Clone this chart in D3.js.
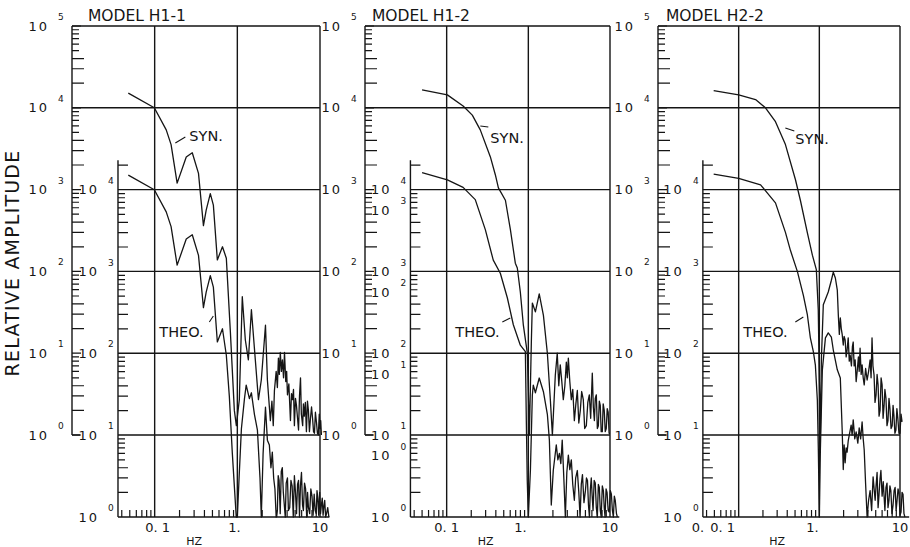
<!DOCTYPE html>
<html>
<head>
<meta charset="utf-8">
<script src="https://cdn.jsdelivr.net/npm/d3@7"></script>
<style>
  body { margin: 0; background: #fff; }
  svg text { font-family: "DejaVu Sans", "Liberation Sans", sans-serif; fill: #151515; }
</style>
</head>
<body>
<svg id="chart" width="910" height="547"></svg>
<script>
// ---- data: spectral amplitude vs frequency [Hz, amplitude] ----
const panelTitles = ["MODEL  H1-1", "MODEL  H1-2", "MODEL  H2-2"];

const synH11 = [[0.048,15100],[0.099,10000],[0.138,5370],[0.158,3550],[0.187,1200],[0.241,2500],[0.285,2820],[0.339,1580],[0.389,363],[0.42,562],[0.471,891],[0.513,646],[0.573,138],[0.661,200],[0.736,145],[0.822,19],[0.92,2.0],[0.973,1.3],[1.057,2.7],[1.148,49],[1.25,14.5],[1.36,8.3],[1.48,34],[1.65,8.3],[1.80,2.7],[1.95,4.7],[2.19,22],[2.31,4.7],[2.51,1.5],[2.62,2.6],[2.72,1.3],[2.81,3.5],[2.95,6],[3.05,3.8],[3.14,8.7],[3.22,5.5],[3.31,10.2],[3.41,6],[3.51,8.3],[3.62,5],[3.72,10.2],[3.85,4.5],[3.95,6],[4.04,3.1],[4.2,4.2],[4.39,1.5],[4.52,3.2],[4.65,2.7],[4.78,3.6],[4.90,1.3],[5.05,2.8],[5.19,2.3],[5.35,1.6],[5.50,1.15],[5.65,3],[5.81,5.0],[5.95,1.8],[6.17,1.3],[6.3,2.4],[6.46,1.7],[6.65,2.5],[6.85,1.1],[7.05,2.6],[7.24,2.0],[7.45,1.1],[7.67,1.6],[7.9,2.2],[8.13,1.6],[8.35,1.1],[8.57,1.05],[8.8,1.9],[9.08,1.4],[9.3,1.05],[9.55,1],[9.8,1.8],[10,1.2],[10.2,1.5],[10.4,1]];
const theoH11 = [[0.048,15100],[0.099,10000],[0.138,5370],[0.158,3550],[0.187,1200],[0.241,2500],[0.285,2820],[0.339,1580],[0.389,363],[0.42,562],[0.471,891],[0.513,646],[0.573,138],[0.661,200],[0.736,95],[0.80,30],[0.87,6],[0.93,2],[0.97,1],[1.0,1],[1.05,3],[1.12,12],[1.22,28],[1.28,41],[1.40,28],[1.48,33],[1.61,18],[1.75,11.5],[1.88,3],[1.95,1],[2.05,6],[2.19,22],[2.31,8.7],[2.44,7.6],[2.55,4],[2.65,6.2],[2.75,3],[2.85,2.2],[2.95,1],[3.05,1.2],[3.12,3.2],[3.2,2.8],[3.3,1.1],[3.4,3.6],[3.5,4],[3.6,2],[3.7,1.4],[3.8,1],[3.9,2.6],[4.04,3],[4.15,1.2],[4.3,1.3],[4.45,2.8],[4.6,2.4],[4.75,1],[4.9,3.2],[5.05,2],[5.2,1.1],[5.35,2.5],[5.5,2.8],[5.65,1],[5.8,2.4],[5.97,3.5],[6.15,1.4],[6.3,1.2],[6.5,2.6],[6.7,2.2],[6.9,1],[7.07,2.0],[7.25,1.3],[7.5,1.1],[7.75,2.2],[8.0,1.8],[8.25,1.05],[8.5,1.9],[8.75,1.2],[9.0,1.1],[9.2,2.1],[9.4,1.7],[9.65,1.05],[9.9,2.0],[10.15,1.1],[10.4,1.4],[10.65,1.7],[10.9,1.05],[11.1,1.3],[11.4,1.6],[11.7,1],[12,1.1],[12.4,1.3],[12.8,1]];

const synH12 = [[0.05,16600],[0.102,14400],[0.159,10500],[0.206,8130],[0.258,5370],[0.343,2510],[0.395,1510],[0.43,1050],[0.524,741],[0.603,324],[0.693,126],[0.733,110],[0.798,56],[0.869,22],[0.972,10],[1.0,3.5],[1.03,1],[1.09,14.5],[1.12,41],[1.22,32],[1.36,53],[1.53,29],[1.71,10],[1.86,2.7],[1.97,1],[2.14,5.4],[2.26,10],[2.36,4],[2.46,7.2],[2.57,4.5],[2.68,2.7],[2.8,4],[2.92,7.8],[3.0,5],[3.09,8.7],[3.22,4.5],[3.36,2.7],[3.5,3.6],[3.66,1.5],[3.82,2.4],[3.98,3.5],[4.15,1.4],[4.33,2.0],[4.5,3.4],[4.71,2.7],[4.9,1.2],[5.13,1.3],[5.35,2.5],[5.58,3.1],[5.8,1.6],[6.07,5.7],[6.25,2.2],[6.44,1.5],[6.6,2.8],[6.8,3.1],[7.0,1.2],[7.2,1.3],[7.4,2.6],[7.6,2.3],[7.8,1.1],[8.05,1.1],[8.25,2.4],[8.5,2.0],[8.75,1.1],[9.0,1.2],[9.25,2.1],[9.5,1.9],[9.75,1.05],[10,1.05]];
const theoH12 = [[0.05,16200],[0.102,13200],[0.159,10700],[0.224,7590],[0.298,3240],[0.372,1380],[0.454,955],[0.553,479],[0.655,224],[0.798,126],[0.92,105],[0.945,15],[0.97,2.8],[1.0,1],[1.06,3.7],[1.12,31],[1.15,41],[1.22,33],[1.36,50],[1.53,34],[1.71,18],[1.81,8.7],[1.91,1.4],[2.02,3.7],[2.2,7.6],[2.3,5],[2.4,6],[2.5,4.5],[2.6,8.7],[2.72,3],[2.84,1],[2.96,3.5],[3.09,5.7],[3.22,3.8],[3.36,5],[3.5,2.5],[3.66,1.6],[3.8,3],[3.98,3.7],[4.15,2],[4.3,1],[4.45,2.5],[4.6,3.3],[4.8,1.5],[5.0,2.1],[5.15,3],[5.3,2.8],[5.45,1.4],[5.6,1],[5.75,2.2],[5.9,3],[6.05,1.8],[6.2,1.2],[6.4,2.8],[6.6,2.6],[6.8,1.3],[7.0,1],[7.2,2.5],[7.4,2.3],[7.6,1.2],[7.8,1],[8.05,2.4],[8.3,2.1],[8.5,1.3],[8.7,1],[8.95,2.2],[9.2,2.0],[9.5,1.2],[9.8,1.15],[10.1,2.1],[10.4,1.9],[10.7,1.2],[11,1],[11.3,1.8],[11.6,1.6],[12.0,1.1],[12.3,1]];

const synH22 = [[0.049,16200],[0.1,14400],[0.162,12600],[0.215,10000],[0.286,6760],[0.38,3550],[0.506,1320],[0.582,741],[0.711,295],[0.82,158],[0.918,105],[0.97,34],[1.0,4.7],[1.03,1],[1.06,8.3],[1.12,39],[1.29,56],[1.41,78],[1.49,98],[1.58,83],[1.67,59],[1.72,29],[1.77,17],[1.82,27],[1.87,20],[1.92,17],[1.98,12.6],[2.03,16],[2.09,14.5],[2.15,9],[2.21,11],[2.28,15.4],[2.35,8],[2.41,9.5],[2.5,7],[2.57,12],[2.63,13.7],[2.7,7],[2.78,8.3],[2.86,4.5],[2.94,5.9],[3.05,9],[3.12,6],[3.2,11.5],[3.3,5.5],[3.39,7.2],[3.5,5],[3.6,4.1],[3.75,6.5],[3.91,4.7],[4.08,6],[4.26,8.3],[4.38,5],[4.5,15.4],[4.62,7],[4.77,5.4],[4.9,2.5],[5.05,3.1],[5.2,5.5],[5.35,4.1],[5.5,1.7],[5.66,2.0],[5.83,5],[6.0,4.1],[6.17,1.6],[6.35,2.3],[6.5,3.6],[6.7,2.8],[6.9,1.3],[7.1,1.5],[7.3,2.8],[7.5,2.1],[7.75,1.2],[8.0,1.3],[8.2,2.3],[8.4,1.75],[8.65,1.05],[8.9,1.15],[9.15,2.1],[9.4,1.6],[9.7,1.05],[10,1.05],[10.3,1.8],[10.6,1.45]];
const theoH22 = [[0.049,15500],[0.1,13800],[0.187,11500],[0.286,6920],[0.38,3020],[0.438,1820],[0.535,1000],[0.634,513],[0.711,295],[0.774,155],[0.843,105],[0.893,72],[0.945,27],[0.972,6.6],[1.0,1],[1.03,6.6],[1.09,63],[1.19,155],[1.29,178],[1.41,158],[1.49,110],[1.67,63],[1.82,50],[1.92,11.5],[1.98,3.8],[2.03,7.6],[2.09,4.6],[2.15,7],[2.21,6.2],[2.28,8.5],[2.35,10],[2.48,13.3],[2.55,10],[2.63,15.4],[2.75,9],[2.86,11],[3.0,8],[3.12,12.3],[3.25,9],[3.39,14.5],[3.5,9],[3.6,6.6],[3.75,2.5],[3.91,1],[4.08,1.6],[4.26,2.1],[4.45,1.2],[4.64,3.1],[4.78,2.2],[4.92,1.6],[5.05,2.4],[5.2,3.5],[5.35,1.3],[5.5,1.9],[5.65,2.9],[5.8,3.7],[6.0,1.8],[6.2,2.7],[6.35,1.8],[6.5,1.2],[6.7,2.3],[6.9,2.6],[7.1,1.3],[7.3,1.6],[7.5,2.4],[7.7,2.1],[7.95,1.1],[8.2,1.4],[8.45,2.1],[8.7,2.3],[8.95,1.2],[9.2,1.6],[9.45,2.2],[9.7,2.0],[10.0,1.05],[10.3,1.15],[10.6,2.0],[10.9,1.9],[11.2,1.1],[11.5,1]];

// axis tick labels
const upperExponents = [0, 1, 2, 3, 4, 5];
const lowerExponents = [0, 1, 2, 3, 4];
const altExponents = [0, 1, 2, 3];          // second label column on the H1-2 lower axis
const xTickValues = [0.1, 1, 10];
const xTickLabels = ["0. 1", "1.", "10"];
const minorFactors = [2, 3, 4, 5, 6, 7, 8, 9];

// ---- layout ----
const Y_TOP = 26, Y_UPPER_BASE = 435, Y_LOWER_BASE = 517;
const LOWER_TOP_VALUE = 2.3e4;
const LOWER_AXIS_F = 0.036;
const ALT_FACTOR = 5.6;
const INK = "#151515";

const panels = [
  { title: panelTitles[0], syn: synH11, theo: theoH11, x0: 72,  x10: 320, titleDx: 16,
    synLab: [-48, 141], synPtr: [-62, 143, -52, 137], theoLab: [-78, 337], theoPtr: [-28, 322, -24, 316],
    xLabShift: [3, -3, 0], extraX: null, alt: false },
  { title: panelTitles[1], syn: synH12, theo: theoH12, x0: 365, x10: 610, titleDx: 7,
    synLab: [-38, 143], synPtr: [-48, 126, -40, 127], theoLab: [-73, 337], theoPtr: [-26, 322, -18, 318],
    xLabShift: [0, -8, 0], extraX: null, alt: true },
  { title: panelTitles[2], syn: synH22, theo: theoH22, x0: 658, x10: 900, titleDx: 8,
    synLab: [-24, 144], synPtr: [-34, 128, -25, 131], theoLab: [-76, 337], theoPtr: [-24, 322, -16, 317],
    xLabShift: [-16, -7, 0], extraX: "0.", alt: false }
];

const svg = d3.select("#chart");

// y title
svg.append("text")
  .attr("transform", "translate(19,263) rotate(-90)")
  .attr("text-anchor", "middle")
  .style("font-size", "19px").style("letter-spacing", "1.2px")
  .text("RELATIVE AMPLITUDE");

const yU = d3.scaleLog().domain([1, 1e5]).range([Y_UPPER_BASE, Y_TOP]);
const yL = d3.scaleLog().domain([1, 1e4]).range([Y_LOWER_BASE, Y_LOWER_BASE - (Y_UPPER_BASE - Y_TOP) * 4 / 5]);

panels.forEach(p => {
  const x = d3.scaleLog().domain([0.01, 10]).range([p.x0, p.x10]);
  const g = svg.append("g");
  const xl = x(LOWER_AXIS_F);

  // collect straight segments into path strings, grouped by stroke width
  const grid = [], ruler = [], ticks = [];
  const seg = (arr, a, b, c, d) => arr.push(`M${a},${b}L${c},${d}`);

  // horizontal grid
  seg(grid, p.x0, yU(1e5), p.x10, yU(1e5));
  seg(grid, p.x0, yU(1e4), p.x10, yU(1e4));
  [1e3, 1e2, 1e1, 1].forEach(v => seg(grid, xl, yU(v), p.x10, yU(v)));
  // vertical grid + right border
  [0.1, 1, 10].forEach(f => seg(grid, x(f), Y_TOP, x(f), Y_LOWER_BASE));

  // upper ruler
  seg(ruler, p.x0, yU(1e5), p.x0, yU(1));
  seg(ruler, p.x0, yU(1), p.x0 + 8, yU(1));
  upperExponents.forEach(n => {
    const v = Math.pow(10, n);
    seg(ticks, p.x0, yU(v), p.x0 + 9, yU(v));
    if (n < 5) minorFactors.forEach(k => {
      seg(ticks, p.x0, yU(k * v), p.x0 + (k <= 4 ? 12 : 7), yU(k * v));
    });
  });

  // lower ruler
  seg(ruler, xl, yL(LOWER_TOP_VALUE), xl, Y_LOWER_BASE);
  lowerExponents.forEach(n => {
    const v = Math.pow(10, n);
    minorFactors.forEach(k => {
      if (k * v > LOWER_TOP_VALUE) return;
      seg(ticks, xl, yL(k * v), xl + (k <= 4 ? 10 : 7), yL(k * v));
    });
  });

  // bottom frequency axis
  seg(ruler, xl, Y_LOWER_BASE, x(13), Y_LOWER_BASE);
  [0.01, 0.1, 1].forEach(d => minorFactors.forEach(k => {
    const f = k * d;
    if (f < LOWER_AXIS_F) return;
    seg(ticks, x(f), Y_LOWER_BASE, x(f), Y_LOWER_BASE - 7);
  }));

  g.append("path").attr("d", grid.join("")).attr("fill", "none").attr("stroke", INK).attr("stroke-width", 1.4);
  g.append("path").attr("d", ruler.join("")).attr("fill", "none").attr("stroke", INK).attr("stroke-width", 1.4);
  g.append("path").attr("d", ticks.join("")).attr("fill", "none").attr("stroke", INK).attr("stroke-width", 1.2);

  // title
  g.append("text").attr("x", p.x0 + p.titleDx).attr("y", 21)
    .style("font-size", "15.5px").text(p.title);

  // y tick labels
  const yLabel = (xr, y, n) => {
    g.append("text").attr("x", xr).attr("y", y).attr("dy", "0.36em")
      .attr("text-anchor", "end").style("font-size", "13px").style("letter-spacing", "2px").text("10");
    g.append("text").attr("x", xr + 9).attr("y", y - 6).style("font-size", "9px").text(n);
  };
  upperExponents.forEach(n => yLabel(p.x0 - 23, yU(Math.pow(10, n)), n));
  lowerExponents.forEach(n => yLabel(xl - 19, yL(Math.pow(10, n)), n));
  if (p.alt) altExponents.forEach(n => yLabel(xl - 19, yL(Math.pow(10, n) * ALT_FACTOR), n));

  // x tick labels
  xTickValues.forEach((f, i) => {
    g.append("text").attr("x", x(f) + p.xLabShift[i]).attr("y", 532)
      .attr("text-anchor", "middle").style("font-size", "13px").text(xTickLabels[i]);
  });
  if (p.extraX) {
    g.append("text").attr("x", xl - 5).attr("y", 532)
      .attr("text-anchor", "middle").style("font-size", "13px").text(p.extraX);
  }
  g.append("text").attr("x", x(0.3)).attr("y", 545)
    .attr("text-anchor", "middle").style("font-size", "11px").text("HZ");

  // spectra
  const synLine = d3.line().x(d => x(d[0])).y(d => yU(Math.max(1, d[1])));
  const theoLine = d3.line().x(d => x(d[0])).y(d => yL(Math.max(1, d[1])));
  g.append("path").attr("d", synLine(p.syn)).attr("fill", "none")
    .attr("stroke", INK).attr("stroke-width", 1.3).attr("stroke-linejoin", "round");
  g.append("path").attr("d", theoLine(p.theo)).attr("fill", "none")
    .attr("stroke", INK).attr("stroke-width", 1.3).attr("stroke-linejoin", "round");

  // curve annotations
  const xOne = x(1);
  const ann = [];
  seg(ann, xOne + p.synPtr[0], p.synPtr[1], xOne + p.synPtr[2], p.synPtr[3]);
  seg(ann, xOne + p.theoPtr[0], p.theoPtr[1], xOne + p.theoPtr[2], p.theoPtr[3]);
  g.append("path").attr("d", ann.join("")).attr("fill", "none").attr("stroke", INK).attr("stroke-width", 1.1);
  g.append("text").attr("x", xOne + p.synLab[0]).attr("y", p.synLab[1])
    .style("font-size", "14.5px").text("SYN.");
  g.append("text").attr("x", xOne + p.theoLab[0]).attr("y", p.theoLab[1])
    .style("font-size", "14.5px").text("THEO.");
});
</script>
</body>
</html>
